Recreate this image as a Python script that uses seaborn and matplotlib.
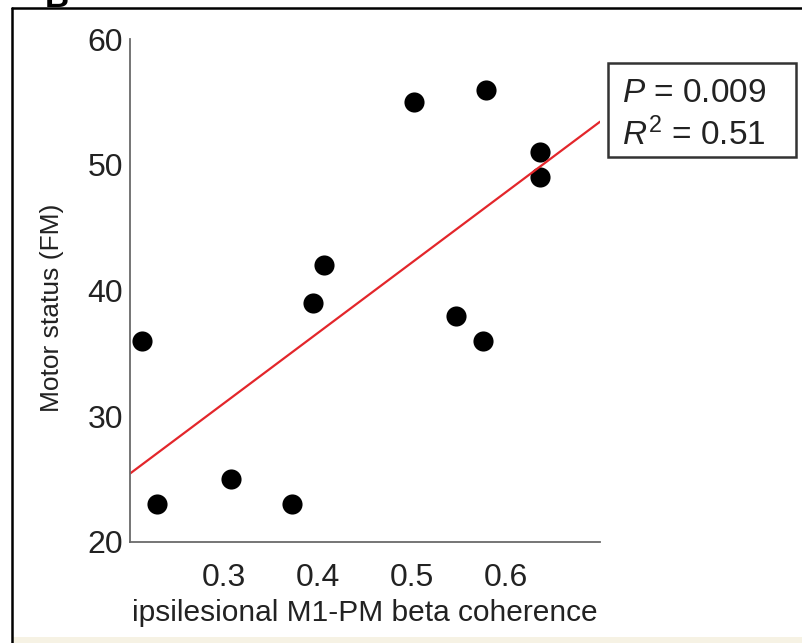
import numpy as np
import pandas as pd
import matplotlib.pyplot as plt
import seaborn as sns
from matplotlib.lines import Line2D
from matplotlib.patches import Rectangle

# values
coherence = [0.213, 0.229, 0.307, 0.372, 0.395, 0.406, 0.502, 0.547, 0.575, 0.579, 0.636, 0.636]
fm_score = [36, 23, 25, 23, 39, 42, 55, 38, 36, 56, 51, 49]
x_ticks = [0.3, 0.4, 0.5, 0.6]
y_ticks = [20, 30, 40, 50, 60]
stats_text = ['$P$ = 0.009', '$R^2$ = 0.51']

df = pd.DataFrame({'coh': coherence, 'fm': fm_score})

sns.set_theme(style='white')
plt.rcParams['font.family'] = ['Liberation Sans', 'DejaVu Sans']
plt.rcParams['mathtext.fontset'] = 'custom'
plt.rcParams['mathtext.rm'] = 'Liberation Sans'
plt.rcParams['mathtext.it'] = 'Liberation Sans:italic'

W, H = 803, 643
fig = plt.figure(figsize=(W / 100, H / 100), dpi=100)
fig.patch.set_facecolor('white')

ax = fig.add_axes([130 / W, 1 - 541.7 / H, 470 / W, 502.4 / H])
ax.set_xlim(0.2, 0.7)
ax.set_ylim(20, 60)

sns.regplot(data=df, x='coh', y='fm', ax=ax, ci=None, truncate=False,
            scatter_kws=dict(s=210, color='black', linewidths=0, alpha=1),
            line_kws=dict(color='#e3262b', lw=1.6))

ax.set_xlim(0.2, 0.7)
ax.set_ylim(20, 60)
ax.set_xticks(x_ticks)
ax.set_xticklabels([str(t) for t in x_ticks])
ax.set_yticks(y_ticks)
ax.set_yticklabels([str(t) for t in y_ticks])

for side in ['top', 'right']:
    ax.spines[side].set_visible(False)
for side in ['left', 'bottom']:
    ax.spines[side].set_color('#6a6a6a')
    ax.spines[side].set_linewidth(1.3)

ax.tick_params(direction='in', length=4, width=1, color='#6a6a6a',
               labelsize=23, labelcolor='#222222')
ax.tick_params(axis='x', pad=15)
ax.tick_params(axis='y', pad=5)

ax.set_xlabel('ipsilesional M1-PM beta coherence', fontsize=21.5, color='#222222', labelpad=5)
ax.set_ylabel('Motor status (FM)', fontsize=19, color='#222222')
ax.yaxis.set_label_coords((64 - 130) / 470, (541.7 - 308) / 502.4)

# stats box
fig.add_artist(Rectangle((608 / W, 1 - 157 / H), 188 / W, 94 / H,
                         transform=fig.transFigure, fill=False, ec='#333333', lw=1.8))
fig.text(622 / W, 1 - 93 / H, stats_text[0], fontsize=24, va='center', ha='left', color='#222222')
fig.text(622 / W, 1 - 135 / H, stats_text[1], fontsize=24, va='center', ha='left', color='#222222')

# outer frame and panel letter (cut off at the top, as in the source)
fig.add_artist(Line2D([12 / W, 12 / W], [0, 1 - 8 / H], transform=fig.transFigure, color='black', lw=1.8))
fig.add_artist(Line2D([12 / W, 1], [1 - 8 / H, 1 - 8 / H], transform=fig.transFigure, color='black', lw=1.8))
fig.add_artist(Rectangle((13 / W, 0), 1, 6 / H, transform=fig.transFigure, color='#f6f2e4', lw=0))
fig.text(45 / W, 1 - 14 / H, 'B', fontsize=24, fontweight='bold', va='bottom', ha='left', color='black')

fig.savefig('out.png', dpi=100)
